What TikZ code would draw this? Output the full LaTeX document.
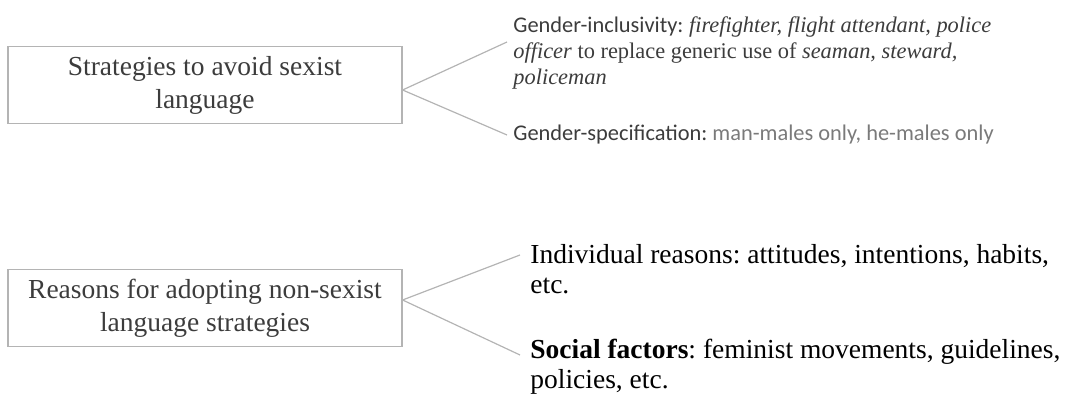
\documentclass[tikz,border=0pt]{standalone}
\usepackage{fontspec}
\setmainfont{Liberation Serif}
\newfontfamily\labelfont{Carlito}
\usetikzlibrary{positioning}
\definecolor{boxgray}{HTML}{B4B4B4}
\definecolor{txtgray}{HTML}{3C3C3C}
\definecolor{lightgray}{HTML}{7A7A7A}
\frenchspacing
\tikzset{
  topic/.style={draw=boxgray,line width=0.6pt,minimum width=197pt,minimum height=38.5pt,
    align=center,text=txtgray,font=\fontsize{13.75}{16.5}\selectfont},
  smalltext/.style={anchor=north west,inner sep=0pt,align=left,text=txtgray,
    font=\fontsize{11.2}{13}\selectfont},
  bigtext/.style={anchor=north west,inner sep=0pt,align=left,text=black,
    font=\fontsize{13.75}{15}\selectfont},
  branch/.style={draw=boxgray,line width=0.6pt}
}
\begin{document}
\begin{tikzpicture}[x=0.5pt,y=-0.5pt]
    \useasboundingbox (0,0) rectangle (1072,399);
    \node[topic] (strat) at (205,85) {Strategies to avoid sexist\\language};
    \node[topic] (reason) at (205,308) {Reasons for adopting non-sexist\\language strategies};
    \node[smalltext] (incl) at (513,16) {{\labelfont Gender-inclusivity:} \textit{firefighter, flight attendant, police}\\\textit{officer} to replace generic use of \textit{seaman, steward,}\\\textit{policeman}};
    \node[smalltext] (spec) at (513,125) {\labelfont Gender-specification: \textcolor{lightgray}{man-males only, he-males only}};
    \node[bigtext] (indiv) at (530,244) {Individual reasons: attitudes, intentions, habits,\\etc.};
    \node[bigtext] (social) at (530,339) {\textbf{Social factors}: feminist movements, guidelines,\\policies, etc.};
    \draw[branch] ([yshift=-2.5pt]strat.east) -- ([shift={(-6,26)}]incl.north west);
    \draw[branch] ([yshift=-2.5pt]strat.east) -- ([shift={(-6,10)}]spec.north west);
    \draw[branch] ([yshift=4pt]reason.east) -- ([shift={(-10,11)}]indiv.north west);
    \draw[branch] ([yshift=4pt]reason.east) -- ([shift={(-10,16)}]social.north west);
\end{tikzpicture}
\end{document}
